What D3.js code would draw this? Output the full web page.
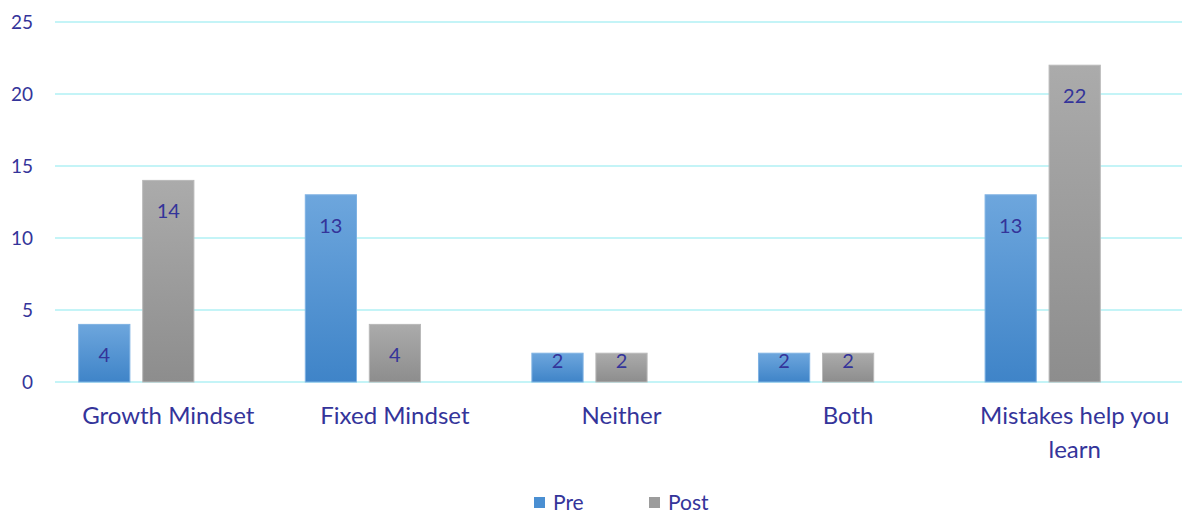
<!DOCTYPE html>
<html>
<head>
<meta charset="utf-8">
<script src="https://cdn.jsdelivr.net/npm/d3@7"></script>
<style>
  body { margin: 0; background: #fff; }
  text { font-family: Lato, "Open Sans", sans-serif; fill: #34349a; }
</style>
</head>
<body>
<div id="main"></div>
<script>
// chart data
const categories = ['Growth Mindset', 'Fixed Mindset', 'Neither', 'Both', 'Mistakes help you learn'];
const preValues = [4, 13, 2, 2, 13];
const postValues = [14, 4, 2, 2, 22];
const yTicks = [0, 5, 10, 15, 20, 25];
// the original chart leaves room for a third (empty) series in every group
const seriesSlots = ['Pre', 'Post', 'empty'];

const svgWidth = 1182;
const svgHeight = 514;
const margin = { left: 55, right: -6, top: 22, bottom: 132 };
const chartWidth = svgWidth - margin.left - margin.right;
const chartHeight = svgHeight - margin.top - margin.bottom;

const svg = d3.select('#main')
    .append('svg')
    .attr('width', svgWidth)
    .attr('height', svgHeight);

// gradients for the bars
const defs = svg.append('defs');
function addGradient(id, top, bottom) {
    const g = defs.append('linearGradient')
        .attr('id', id)
        .attr('x1', 0).attr('y1', 0).attr('x2', 0).attr('y2', 1);
    g.append('stop').attr('offset', '0%').attr('stop-color', top);
    g.append('stop').attr('offset', '100%').attr('stop-color', bottom);
}
addGradient('gradPre', '#6da6dd', '#3f84c8');
addGradient('gradPost', '#ababab', '#8d8d8d');

const colors = { Pre: 'url(#gradPre)', Post: 'url(#gradPost)' };
const legendColors = { Pre: '#4a8fd2', Post: '#9c9c9c' };

const xScale = d3.scaleBand()
    .domain(categories)
    .range([0, chartWidth]);

const xInner = d3.scaleBand()
    .domain(seriesSlots)
    .range([0, xScale.bandwidth()])
    .paddingInner(0.2)
    .paddingOuter(0.37);

const yScale = d3.scaleLinear()
    .domain([0, 25])
    .range([chartHeight, 0]);

const chart = svg.append('g')
    .attr('transform', `translate(${margin.left}, ${margin.top})`);

// gridlines
chart.append('g')
    .selectAll('line')
    .data(yTicks)
    .enter()
    .append('line')
    .attr('x1', 0)
    .attr('x2', chartWidth)
    .attr('y1', d => yScale(d))
    .attr('y2', d => yScale(d))
    .attr('stroke', '#c4f4f7')
    .attr('stroke-width', 2);

// y axis labels
const yAxis = chart.append('g')
    .call(d3.axisLeft(yScale).tickValues(yTicks).tickSize(0).tickPadding(22));
yAxis.select('.domain').remove();
yAxis.selectAll('text')
    .style('font-size', '19px')
    .attr('fill', '#34349a');

// bars
const rows = categories.map((c, i) => ({ category: c, Pre: preValues[i], Post: postValues[i] }));

const groups = chart.selectAll('.group')
    .data(rows)
    .enter()
    .append('g')
    .attr('class', 'group')
    .attr('transform', d => `translate(${xScale(d.category)}, 0)`);

const bars = groups.selectAll('.bar')
    .data(d => ['Pre', 'Post'].map(s => ({ series: s, value: d[s] })))
    .enter()
    .append('g')
    .attr('class', 'bar');

bars.append('rect')
    .attr('x', d => xInner(d.series))
    .attr('y', d => yScale(d.value))
    .attr('width', xInner.bandwidth())
    .attr('height', d => chartHeight - yScale(d.value))
    .attr('fill', d => colors[d.series])
    .attr('stroke', d => d.series === 'Pre' ? '#7fb2e3' : '#b9b9b9')
    .attr('stroke-width', 1);

// value labels, inside end of the bars
bars.append('text')
    .attr('x', d => xInner(d.series) + xInner.bandwidth() / 2)
    .attr('y', d => {
        const top = yScale(d.value);
        const h = chartHeight - top;
        return h > 50 ? top + 30 : top + 7;
    })
    .attr('text-anchor', 'middle')
    .attr('dominant-baseline', 'central')
    .style('font-size', '20px')
    .text(d => d.value);

// category labels (wrapped)
const catLabels = chart.append('g')
    .selectAll('text')
    .data(categories)
    .enter()
    .append('text')
    .attr('x', d => xScale(d) + xScale.bandwidth() / 2)
    .attr('y', chartHeight + 42)
    .attr('text-anchor', 'middle')
    .style('font-size', '24px');

catLabels.each(function (d) {
    const lines = d === 'Mistakes help you learn' ? ['Mistakes help you', 'learn'] : [d];
    const t = d3.select(this);
    lines.forEach((line, i) => {
        t.append('tspan')
            .attr('x', xScale(d) + xScale.bandwidth() / 2)
            .attr('dy', i === 0 ? 0 : 34)
            .text(line);
    });
});

// legend
const legend = svg.append('g')
    .attr('transform', 'translate(534, 501)');

const legendItems = legend.selectAll('g')
    .data(['Pre', 'Post'])
    .enter()
    .append('g')
    .attr('transform', (d, i) => `translate(${i * 115}, 0)`);

legendItems.append('rect')
    .attr('x', 0)
    .attr('y', -4)
    .attr('width', 11)
    .attr('height', 11)
    .attr('fill', d => legendColors[d]);

legendItems.append('text')
    .attr('x', 19)
    .attr('y', 9)
    .style('font-size', '21px')
    .text(d => d);
</script>
</body>
</html>
